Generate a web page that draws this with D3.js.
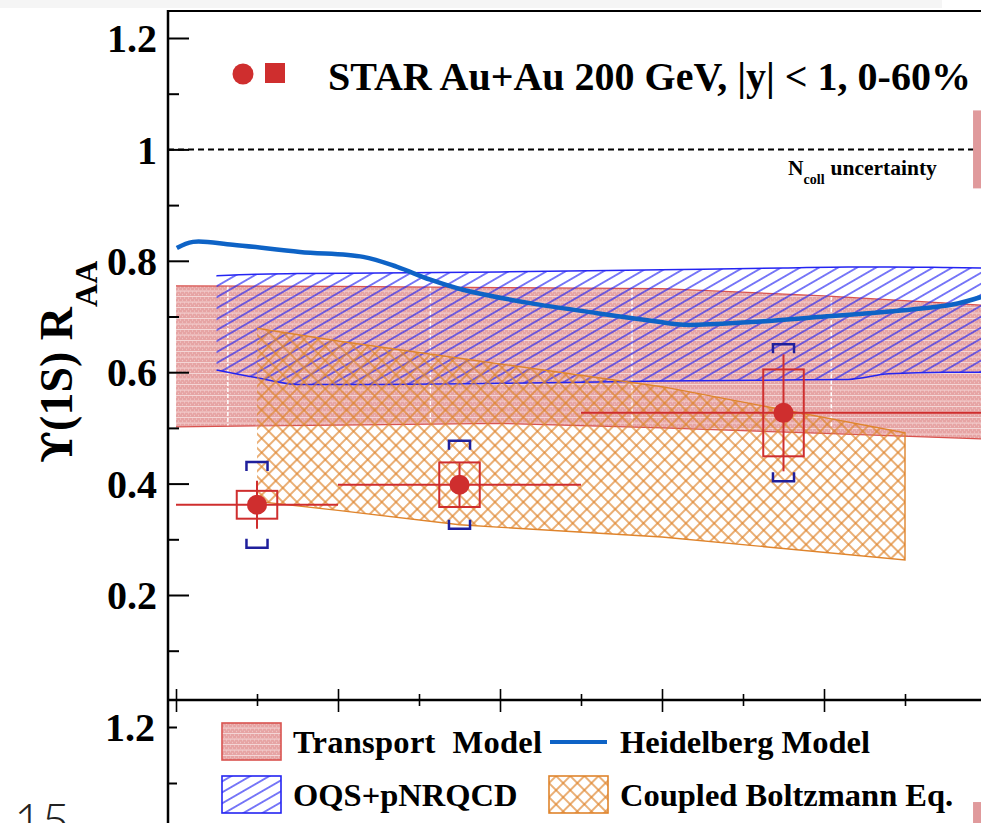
<!DOCTYPE html>
<html>
<head>
<meta charset="utf-8">
<script src="https://cdn.jsdelivr.net/npm/d3@7"></script>
<style>
  body { margin: 0; background: #fff; }
  svg { display: block; }
  text { font-family: "Liberation Serif", "Times New Roman", serif; font-weight: bold; fill: #000; }
</style>
</head>
<body>
<svg id="chart" width="981" height="823"></svg>
<script>
// STAR data points (pT in GeV/c)
const ptBins = [[0, 2], [2, 5], [5, 10]];
const ptMean = [1, 3.5, 7.5];
const raa = [0.362, 0.398, 0.527];
const statErr = [0.043, 0.040, 0.105];
const sysErr = [0.025, 0.040, 0.078];
const bracketErr = [0.077, 0.079, 0.123];

// Transport model band
const transportPt = [0, 2, 4, 6, 8, 10];
const transportHi = [0.755, 0.754, 0.752, 0.750, 0.737, 0.720];
const transportLo = [0.502, 0.505, 0.508, 0.500, 0.490, 0.480];
const transportSeams = [0.64, 3.14, 5.63, 8.09];

// OQS+pNRQCD band
const oqsPt = [0.5, 1.0, 1.5, 2.5, 4, 6, 7.5, 8.3, 8.8, 9.5, 10];
const oqsHi = [0.773, 0.776, 0.777, 0.778, 0.780, 0.784, 0.787, 0.789, 0.789, 0.788, 0.787];
const oqsLo = [0.604, 0.590, 0.578, 0.578, 0.580, 0.584, 0.586, 0.587, 0.597, 0.600, 0.600];

// Heidelberg model
const heidPt = [0.01, 0.21, 0.70, 1.53, 2.31, 2.73, 3.14, 3.54, 4.37, 5.20, 5.98, 6.27, 7.10, 7.93, 8.74, 9.57, 9.94];
const heidRaa = [0.823, 0.834, 0.829, 0.816, 0.807, 0.789, 0.766, 0.748, 0.724, 0.706, 0.690, 0.685, 0.690, 0.699, 0.708, 0.721, 0.735];

// Coupled Boltzmann band
const boltzPt = [1, 2, 3.5, 6, 9];
const boltzHi = [0.679, 0.656, 0.625, 0.574, 0.491];
const boltzLo = [0.368, 0.352, 0.326, 0.304, 0.263];

const nCollErr = 0.07;

const yMajor = [0.2, 0.4, 0.6, 0.8, 1, 1.2];
const yMinor = [0.1, 0.3, 0.5, 0.7, 0.9, 1.1];
const xMajor = [0, 2, 4, 6, 8, 10];
const xMinor = [1, 3, 5, 7, 9];

const title = "STAR Au+Au 200 GeV, |y| < 1, 0-60%";
const legendRows = [
  [{name: "Transport  Model", kind: "transport"}, {name: "Heidelberg Model", kind: "heid"}],
  [{name: "OQS+pNRQCD", kind: "oqs"}, {name: "Coupled Boltzmann Eq.", kind: "boltz"}]
];

const red = "#cf2e2e", bandRed = "#d9534f", hatchBlue = "#2424f2", navy = "#1f1f9c",
      heidBlue = "#0e63c6", orange = "#df842c";

const svg = d3.select("#chart");
const frameL = 168, frameT = 11, frameB = 700;

const x = d3.scaleLinear().domain([0, 10]).range([176, 986]);
const y = d3.scaleLinear().domain([0.2, 1.2]).range([595, 38]);
const yLow = d3.scaleLinear().domain([1.1, 1.2]).range([783, 727]);

// top light strip of the slide
svg.append("rect").attr("x", 0).attr("y", 0).attr("width", 942).attr("height", 8).attr("fill", "#f5f5f5");

const defs = svg.append("defs");
// transport: fine pink dotted fill
const pt = defs.append("pattern").attr("id", "pinkDots").attr("patternUnits", "userSpaceOnUse")
  .attr("width", 4).attr("height", 5.5);
pt.append("rect").attr("width", 4).attr("height", 5.5).attr("fill", "#e6a4a4");
pt.append("rect").attr("y", 4.7).attr("width", 4).attr("height", 0.8).attr("fill", "#f8e0e0");
pt.append("rect").attr("x", 0).attr("y", 0.5).attr("width", 1).attr("height", 1).attr("fill", "#f4d0d0");
pt.append("rect").attr("x", 2).attr("y", 2.5).attr("width", 1).attr("height", 1).attr("fill", "#f4d0d0");

const hb = defs.append("pattern").attr("id", "blueHatch").attr("patternUnits", "userSpaceOnUse")
  .attr("width", 20).attr("height", 9.5).attr("patternTransform", "rotate(-30)");
hb.append("line").attr("x1", 0).attr("x2", 20).attr("y1", 4.75).attr("y2", 4.75)
  .attr("stroke", hatchBlue).attr("stroke-width", 1.2);

const ho = defs.append("pattern").attr("id", "orangeHatch").attr("patternUnits", "userSpaceOnUse")
  .attr("width", 10).attr("height", 10).attr("patternTransform", "rotate(45)");
ho.append("line").attr("x1", 0).attr("x2", 10).attr("y1", 5).attr("y2", 5)
  .attr("stroke", orange).attr("stroke-width", 1.3);
ho.append("line").attr("x1", 5).attr("x2", 5).attr("y1", 0).attr("y2", 10)
  .attr("stroke", orange).attr("stroke-width", 1.3);

defs.append("clipPath").attr("id", "upper").append("rect")
  .attr("x", frameL).attr("y", frameT).attr("width", 900).attr("height", frameB - frameT);

const plot = svg.append("g").attr("clip-path", "url(#upper)");

// ---- transport band
const tData = transportPt.map((p, i) => ({pt: p, hi: transportHi[i], lo: transportLo[i]}));
const area = d3.area().x(d => x(d.pt)).y0(d => y(d.lo)).y1(d => y(d.hi));
plot.append("path").datum(tData).attr("d", area).attr("fill", "url(#pinkDots)");
const tHi = d3.scaleLinear().domain(transportPt).range(transportHi);
const tLo = d3.scaleLinear().domain(transportPt).range(transportLo);
plot.selectAll(".seam").data(transportSeams).join("line")
  .attr("x1", d => x(d)).attr("x2", d => x(d))
  .attr("y1", d => y(tHi(d))).attr("y2", d => y(tLo(d)))
  .attr("stroke", "#fff").attr("stroke-width", 1.5).attr("stroke-dasharray", "4,2");
["hi", "lo"].forEach(k => {
  plot.append("path").datum(tData)
    .attr("d", d3.line().x(d => x(d.pt)).y(d => y(d[k])))
    .attr("fill", "none").attr("stroke", bandRed).attr("stroke-width", 1.2);
});

// ---- OQS band
const oData = oqsPt.map((p, i) => ({pt: p, hi: oqsHi[i], lo: oqsLo[i]}));
plot.append("path").datum(oData).attr("d", area.curve(d3.curveMonotoneX)).attr("fill", "url(#blueHatch)");
["hi", "lo"].forEach(k => {
  plot.append("path").datum(oData)
    .attr("d", d3.line().curve(d3.curveMonotoneX).x(d => x(d.pt)).y(d => y(d[k])))
    .attr("fill", "none").attr("stroke", hatchBlue).attr("stroke-width", 1.5);
});

// ---- Boltzmann band
const bData = boltzPt.map((p, i) => ({pt: p, hi: boltzHi[i], lo: boltzLo[i]}));
plot.append("path").datum(bData).attr("d", d3.area().x(d => x(d.pt)).y0(d => y(d.lo)).y1(d => y(d.hi)))
  .attr("fill", "url(#orangeHatch)");
const bOutline = bData.map(d => [x(d.pt), y(d.hi)])
  .concat(bData.slice().reverse().map(d => [x(d.pt), y(d.lo)]));
plot.append("path").attr("d", d3.line()(bOutline))
  .attr("fill", "none").attr("stroke", orange).attr("stroke-width", 1.4);

// ---- Heidelberg line
plot.append("path").datum(heidPt.map((p, i) => [p, heidRaa[i]]))
  .attr("d", d3.line().curve(d3.curveCatmullRom).x(d => x(d[0])).y(d => y(d[1])))
  .attr("fill", "none").attr("stroke", heidBlue).attr("stroke-width", 4.5);

// ---- unity line and Ncoll box
plot.append("line").attr("x1", frameL).attr("x2", 981).attr("y1", y(1)).attr("y2", y(1))
  .attr("stroke", "#000").attr("stroke-width", 2).attr("stroke-dasharray", "6,4");
plot.append("rect").attr("x", x(9.84)).attr("width", x(10.3) - x(9.84))
  .attr("y", y(1 + nCollErr)).attr("height", y(1 - nCollErr) - y(1 + nCollErr))
  .attr("fill", "#e09a9c");
svg.append("rect").attr("x", x(9.84)).attr("width", x(10.3) - x(9.84))
  .attr("y", yLow(1 + nCollErr - 0.004)).attr("height", 823 - yLow(1 + nCollErr - 0.004))
  .attr("fill", "#e09a9c");
const nc = svg.append("text").attr("x", 788).attr("y", 175).attr("font-size", 21.5);
nc.append("tspan").text("N");
nc.append("tspan").attr("dy", 9).attr("font-size", 14).text("coll");
nc.append("tspan").attr("dy", -9).attr("dx", 6).text("uncertainty");

// ---- data points
const pts = ptMean.map((p, i) => ({pt: p, bin: ptBins[i], v: raa[i], st: statErr[i], sy: sysErr[i], br: bracketErr[i]}));
const pg = plot.selectAll(".pt").data(pts).join("g");
pg.append("line").attr("x1", d => x(d.bin[0])).attr("x2", d => x(d.bin[1]))
  .attr("y1", d => y(d.v)).attr("y2", d => y(d.v)).attr("stroke", red).attr("stroke-width", 2);
pg.append("line").attr("x1", d => x(d.pt)).attr("x2", d => x(d.pt))
  .attr("y1", d => y(d.v + d.st)).attr("y2", d => y(d.v - d.st)).attr("stroke", red).attr("stroke-width", 2);
pg.append("rect").attr("x", d => x(d.pt - 0.25)).attr("width", d => x(d.pt + 0.25) - x(d.pt - 0.25))
  .attr("y", d => y(d.v + d.sy)).attr("height", d => y(d.v - d.sy) - y(d.v + d.sy))
  .attr("fill", "none").attr("stroke", red).attr("stroke-width", 2);
pg.append("path").attr("d", d => {
  const l = x(d.pt - 0.13), r = x(d.pt + 0.13), t = y(d.v + d.br), b = y(d.v - d.br);
  return `M${l},${t + 9}V${t}H${r}V${t + 9}M${l},${b - 9}V${b}H${r}V${b - 9}`;
}).attr("fill", "none").attr("stroke", navy).attr("stroke-width", 2.5);
pg.append("circle").attr("cx", d => x(d.pt)).attr("cy", d => y(d.v)).attr("r", 10).attr("fill", red);

// ---- title with markers
svg.append("circle").attr("cx", 243).attr("cy", 74).attr("r", 10.5).attr("fill", red);
svg.append("rect").attr("x", 265).attr("y", 63).attr("width", 20).attr("height", 20).attr("fill", red);
svg.append("text").attr("x", 328).attr("y", 90).attr("font-size", 40).text(title);

// ---- axes
const yAx = svg.append("g").attr("transform", `translate(${frameL},0)`);
yAx.call(d3.axisLeft(y).tickValues(yMajor).tickSizeInner(-21).tickSizeOuter(0).tickPadding(11)
  .tickFormat(d3.format("~g")));
yAx.call(g => g.select(".domain").remove());
yAx.selectAll("text").attr("font-size", 40).attr("font-family", null).attr("dy", "0.34em");
yAx.selectAll("line").attr("stroke-width", 2);
const yMin = svg.append("g").attr("transform", `translate(${frameL},0)`)
  .call(d3.axisLeft(y).tickValues(yMinor.filter(v => y(v) < frameB - 5)).tickSize(-11).tickFormat(""));
yMin.select(".domain").remove();
yMin.selectAll("line").attr("stroke-width", 2);

// lower panel y axis
const yLowAx = svg.append("g").attr("transform", `translate(${frameL + 1},0)`)
  .call(d3.axisLeft(yLow).tickValues([1.2]).tickSizeInner(-8).tickSizeOuter(0).tickPadding(14).tickFormat(d3.format("~g")));
yLowAx.select(".domain").remove();
yLowAx.selectAll("text").attr("font-size", 40).attr("font-family", null).attr("dy", "0.34em");
yLowAx.selectAll("line").attr("stroke-width", 2);
const yLowMin = svg.append("g").attr("transform", `translate(${frameL + 1},0)`)
  .call(d3.axisLeft(yLow).tickValues([1.1]).tickSize(-8).tickFormat(""));
yLowMin.select(".domain").remove();
yLowMin.selectAll("line").attr("stroke-width", 2);

// x ticks crossing the panel boundary
[[xMajor, 12, -11], [xMinor, 6, -6]].forEach(([vals, down, up]) => {
  [down, up].forEach(s => {
    const g = svg.append("g").attr("transform", `translate(0,${frameB})`)
      .call(d3.axisBottom(x).tickValues(vals).tickSize(s).tickFormat(""));
    g.select(".domain").remove();
    g.selectAll("line").attr("stroke-width", 1.6);
  });
});

// frame lines
svg.append("line").attr("x1", frameL).attr("x2", 981).attr("y1", frameT).attr("y2", frameT)
  .attr("stroke", "#000").attr("stroke-width", 2.2);
svg.append("line").attr("x1", frameL).attr("x2", frameL).attr("y1", frameT - 1).attr("y2", 823)
  .attr("stroke", "#000").attr("stroke-width", 2.5);
svg.append("line").attr("x1", frameL).attr("x2", 981).attr("y1", frameB).attr("y2", frameB)
  .attr("stroke", "#000").attr("stroke-width", 2.5);

// y label
const yl = svg.append("text").attr("transform", "translate(72,463) rotate(-90)").attr("font-size", 46);
yl.append("tspan").style("font-family", "'DejaVu Serif', serif").style("font-weight", "bold").attr("font-size", 42).text("ϒ");
yl.append("tspan").text("(1S) R");
yl.append("tspan").attr("dy", 25).attr("font-size", 32).text("AA");

// ---- legend
const lx = [222, 549], ly = [723, 776], bw = 59, bh = 37;
legendRows.forEach((row, r) => row.forEach((e, c) => {
  const g = svg.append("g").attr("transform", `translate(${lx[c]},${ly[r]})`);
  if (e.kind === "heid") {
    g.append("line").attr("x1", 1).attr("x2", bw - 1).attr("y1", 19).attr("y2", 19)
      .attr("stroke", heidBlue).attr("stroke-width", 4);
  } else {
    const fill = {transport: "url(#pinkDots)", oqs: "url(#blueHatch)", boltz: "url(#orangeHatch)"}[e.kind];
    const stroke = {transport: bandRed, oqs: hatchBlue, boltz: orange}[e.kind];
    g.append("rect").attr("x", 0).attr("y", 0).attr("width", bw).attr("height", bh)
      .attr("fill", fill).attr("stroke", stroke).attr("stroke-width", 1.6);
  }
  g.append("text").attr("x", 71).attr("y", 30).attr("font-size", 32.5).style("white-space", "pre")
    .attr("textLength", e.kind === "transport" ? 249 : null).text(e.name);
}));

// slide page number
svg.append("text").attr("x", 14).attr("y", 838).attr("font-size", 48)
  .style("font-family", "Lato, 'Open Sans', sans-serif").style("font-weight", 300).style("fill", "#222").text("15");
</script>
</body>
</html>
